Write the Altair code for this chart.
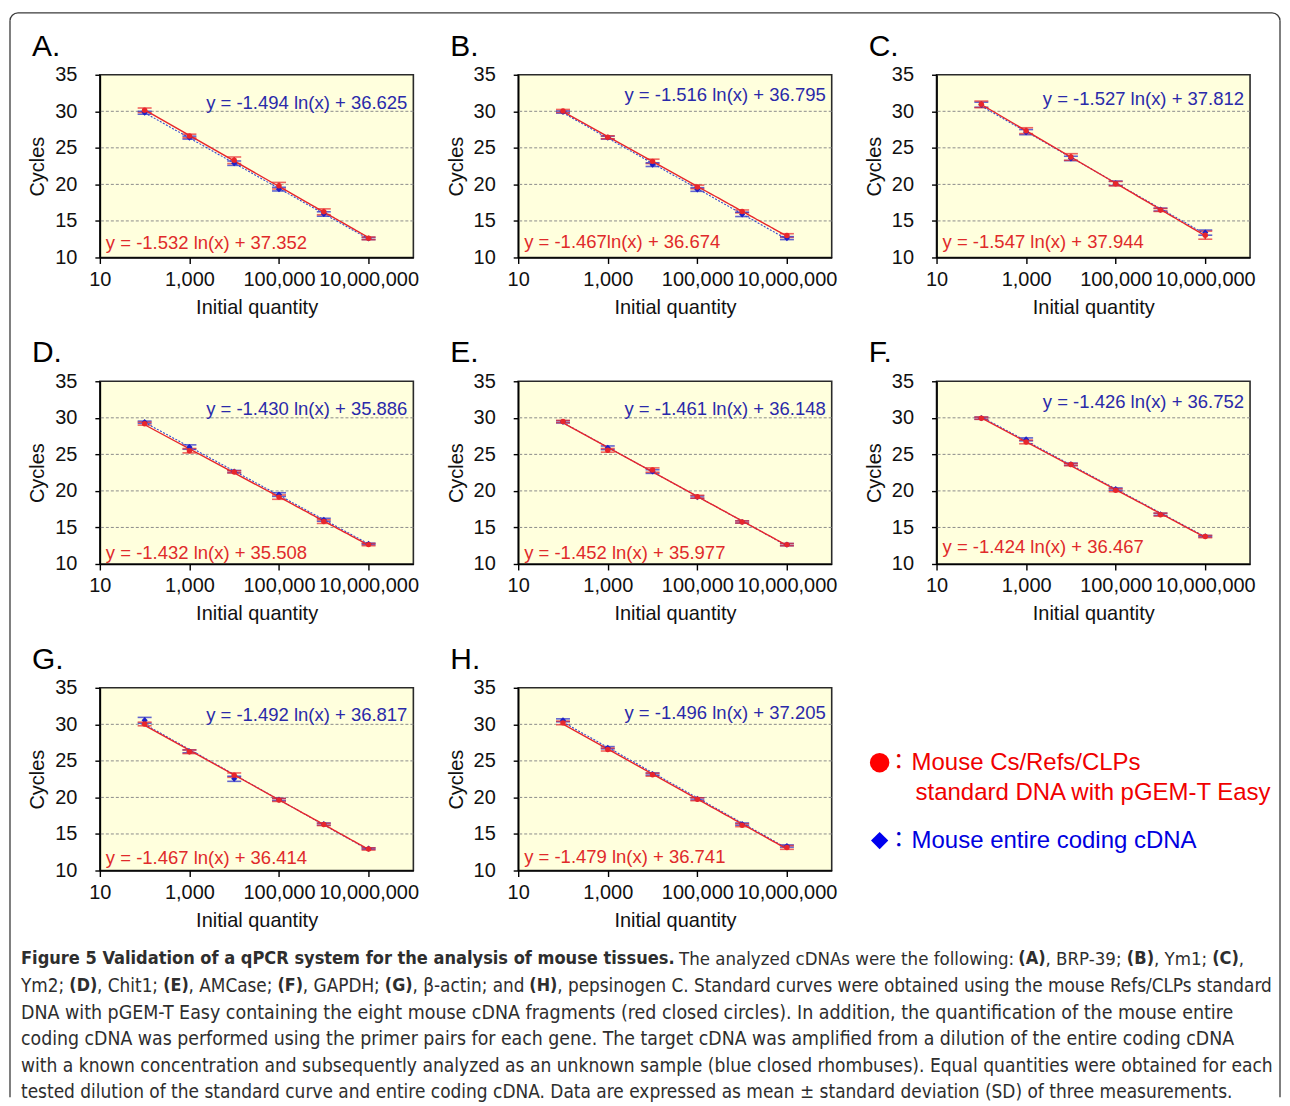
import math
import altair as alt
import pandas as pd

# ---------------- data ----------------
QTY = [100, 1000, 10000, 100000, 1000000, 10000000]
PANEL_LABELS = ["A.", "B.", "C.", "D.", "E.", "F.", "G.", "H."]

A_RED = [30.15, 26.62, 23.30, 19.82, 16.25, 12.62]
A_RED_SD = [0.30, 0.25, 0.45, 0.45, 0.40, 0.18]
A_BLUE = [29.80, 26.40, 22.90, 19.35, 15.95, 12.60]
A_BLUE_SD = [0.20, 0.20, 0.30, 0.25, 0.30, 0.15]

B_RED = [30.05, 26.45, 23.15, 19.65, 16.30, 13.00]
B_RED_SD = [0.20, 0.20, 0.30, 0.25, 0.20, 0.25]
B_BLUE = [29.90, 26.40, 22.70, 19.30, 15.90, 12.65]
B_BLUE_SD = [0.15, 0.20, 0.25, 0.25, 0.30, 0.20]

C_RED = [30.95, 27.35, 23.75, 20.10, 16.50, 13.05]
C_RED_SD = [0.45, 0.40, 0.45, 0.30, 0.20, 0.55]
C_BLUE = [30.90, 27.15, 23.55, 20.15, 16.55, 13.40]
C_BLUE_SD = [0.35, 0.35, 0.30, 0.30, 0.20, 0.35]

D_RED = [29.20, 25.50, 22.60, 19.15, 15.80, 12.65]
D_RED_SD = [0.20, 0.30, 0.15, 0.30, 0.25, 0.15]
D_BLUE = [29.40, 26.00, 22.65, 19.50, 16.05, 12.75]
D_BLUE_SD = [0.15, 0.30, 0.15, 0.25, 0.20, 0.10]

E_RED = [29.50, 25.55, 22.85, 19.20, 15.75, 12.65]
E_RED_SD = [0.15, 0.25, 0.30, 0.20, 0.15, 0.15]
E_BLUE = [29.45, 25.90, 22.65, 19.15, 15.75, 12.65]
E_BLUE_SD = [0.15, 0.25, 0.25, 0.15, 0.15, 0.15]

F_RED = [29.95, 26.70, 23.60, 20.10, 16.75, 13.75]
F_RED_SD = [0.15, 0.25, 0.15, 0.20, 0.20, 0.15]
F_BLUE = [29.95, 27.05, 23.65, 20.25, 16.80, 13.80]
F_BLUE_SD = [0.15, 0.20, 0.15, 0.15, 0.15, 0.10]

G_RED = [30.05, 26.25, 23.05, 19.65, 16.30, 12.95]
G_RED_SD = [0.25, 0.25, 0.30, 0.20, 0.15, 0.15]
G_BLUE = [30.55, 26.30, 22.55, 19.70, 16.35, 13.00]
G_BLUE_SD = [0.40, 0.20, 0.35, 0.15, 0.15, 0.10]

H_RED = [30.20, 26.55, 23.10, 19.75, 16.20, 13.15]
H_RED_SD = [0.25, 0.20, 0.20, 0.20, 0.20, 0.25]
H_BLUE = [30.55, 26.80, 23.20, 19.80, 16.35, 13.35]
H_BLUE_SD = [0.20, 0.15, 0.15, 0.15, 0.15, 0.15]

BLUE_EQ = ["y = -1.494 ln(x) + 36.625", "y = -1.516 ln(x) + 36.795", "y = -1.527 ln(x) + 37.812",
           "y = -1.430 ln(x) + 35.886", "y = -1.461 ln(x) + 36.148", "y = -1.426 ln(x) + 36.752",
           "y = -1.492 ln(x) + 36.817", "y = -1.496 ln(x) + 37.205"]
RED_EQ = ["y = -1.532 ln(x) + 37.352", "y = -1.467ln(x) + 36.674", "y = -1.547 ln(x) + 37.944",
          "y = -1.432 ln(x) + 35.508", "y = -1.452 ln(x) + 35.977", "y = -1.424 ln(x) + 36.467",
          "y = -1.467 ln(x) + 36.414", "y = -1.479 ln(x) + 36.741"]

X_TICKS = [10, 1000, 100000, 10000000]
Y_TICKS = [10, 15, 20, 25, 30, 35]
GRID_Y = [15, 20, 25, 30]

LEGEND_RED = ["Mouse Cs/Refs/CLPs", "standard DNA with pGEM-T Easy"]
LEGEND_BLUE = "Mouse entire coding cDNA"

CAPTION = [
    [("Figure 5 Validation of a qPCR system for the analysis of mouse tissues. ", True),
     ("The analyzed cDNAs were the following: ", False), ("(A)", True), (", BRP-39; ", False),
     ("(B)", True), (", Ym1; ", False), ("(C)", True), (",", False)],
    [("Ym2; ", False), ("(D)", True), (", Chit1; ", False), ("(E)", True), (", AMCase; ", False),
     ("(F)", True), (", GAPDH; ", False), ("(G)", True), (", β-actin; and ", False), ("(H)", True),
     (", pepsinogen C. Standard curves were obtained using the mouse Refs/CLPs standard", False)],
    [("DNA with pGEM-T Easy containing the eight mouse cDNA fragments (red closed circles). In addition, the quantification of the mouse entire", False)],
    [("coding cDNA was performed using the primer pairs for each gene. The target cDNA was amplified from a dilution of the entire coding cDNA", False)],
    [("with a known concentration and subsequently analyzed as an unknown sample (blue closed rhombuses). Equal quantities were obtained for each", False)],
    [("tested dilution of the standard curve and entire coding cDNA. Data are expressed as mean ± standard deviation (SD) of three measurements.", False)],
]

# ---------------- layout / style ----------------
W, H = 314, 183
X0, Y0 = 99, 73          # page position of panel A plot area
COL_SP, ROW_SP = 105, 124
RED = "#E8262B"
BLUE = "#1E22C8"
RED_TXT = "#E02A2A"
BLUE_TXT = "#2A2AAA"
FONT = "Liberation Sans"
CAP_FONT = "DejaVu Sans Condensed"
CAP_COLOR = "#2e2e2e"

BLUE_EQ_Y = [28, 20, 24, 28, 28, 21, 27, 25]
RED_EQ_Y = [169, 168, 168, 172, 172, 166, 170, 169]
CAP_X0 = 20
CAP_Y = [959, 986, 1013, 1039, 1066, 1092]
# per line: (normal size factor, bold size factor, max right edge); every edge stays inside the frame
CAP_LINE_FIT = [(0.96, 0.99, 1245), (1.0, 1.0, 1272), (1.0, 1.0, 1262),
                (0.993, 1.0, 1262), (1.0, 1.0, 1269), (0.973, 1.0, 1262)]

# approximate DejaVu Sans advance widths (units of 1/2048 em) used to chain caption segments
_NW = {" ": 651, "(": 799, ")": 799, ",": 651, "-": 739, ".": 651, "/": 690, ":": 690, ";": 690,
       "±": 1716, "β": 1300,
       "A": 1401, "B": 1405, "C": 1430, "D": 1577, "E": 1294, "F": 1178, "G": 1587, "H": 1540,
       "I": 604, "J": 604, "K": 1343, "L": 1141, "M": 1767, "N": 1532, "O": 1612, "P": 1235,
       "Q": 1612, "R": 1423, "S": 1300, "T": 1251, "U": 1499, "V": 1401, "W": 2025, "X": 1403,
       "Y": 1251, "Z": 1403,
       "a": 1255, "b": 1300, "c": 1126, "d": 1300, "e": 1260, "f": 721, "g": 1300, "h": 1298,
       "i": 569, "j": 569, "k": 1186, "l": 569, "m": 1995, "n": 1298, "o": 1253, "p": 1300,
       "q": 1300, "r": 842, "s": 1067, "t": 803, "u": 1298, "v": 1212, "w": 1675, "x": 1212,
       "y": 1212, "z": 1075}
_BW = {" ": 713, "(": 936, ")": 936, ",": 780, ".": 780, ";": 819, "-": 850,
       "A": 1585, "B": 1561, "C": 1503, "D": 1700, "E": 1399, "F": 1399, "G": 1681, "H": 1716,
       "a": 1382, "c": 1214, "d": 1466, "e": 1389, "f": 891, "g": 1466, "h": 1458, "i": 702,
       "l": 702, "m": 2134, "n": 1458, "o": 1407, "p": 1466, "q": 1466, "r": 1010, "s": 1219,
       "t": 979, "u": 1458, "y": 1331, "V": 1585, "R": 1589, "P": 1503}


def units(s, bold):
    tbl = _BW if bold else _NW
    tot = 0
    for ch in s:
        if ch.isdigit():
            tot += 1425 if bold else 1303
        else:
            tot += tbl.get(ch, 1420 if bold else 1270)
    return tot


# calibration of the condensed face: px per (size * unit/2048)
_K_N = 1090 / (17.5 * units(CAPTION[2][0][0], False) / 2048)
_K_B = 632 / (17.5 * units(CAPTION[0][0][0].strip(), True) / 2048)
CAP_SIZE = 17.5 * 1213 / 1090
CAP_BOLD_SIZE = 17.5 * 666 / 632


def seg_width(s, bold, size):
    k = _K_B if bold else _K_N
    return k * size * units(s, bold) / 2048


ONE = pd.DataFrame({"k": [0]})


def origin(i):
    c, r = i % 3, i // 3
    return X0 + c * (W + COL_SP), Y0 + r * (H + ROW_SP)


def text_at(i, px, py, s, **kw):
    ox, oy = origin(i)
    return alt.Chart(ONE).mark_text(text=s, **kw).encode(x=alt.value(px - ox), y=alt.value(py - oy))


XSCALE = alt.Scale(type="log", domain=[10, 100000000])
YSCALE = alt.Scale(domain=[10, 35], nice=False, zero=False)
XAX = alt.Axis(values=X_TICKS, format=",", title="Initial quantity", grid=False, labelOverlap=False,
               labelFlush=False, tickSize=6, labelPadding=6, titlePadding=8)
YAX = alt.Axis(values=Y_TICKS, title="Cycles", grid=False, tickSize=5, labelPadding=18, titlePadding=7)


def caption_layers(i):
    out = []
    for line, yy, (nf, bf, right) in zip(CAPTION, CAP_Y, CAP_LINE_FIT):
        ns, bs = CAP_SIZE * nf, CAP_BOLD_SIZE * bf
        total = sum(seg_width(s, b, bs if b else ns) for s, b in line)
        if CAP_X0 + total > right:
            f = (right - CAP_X0) / total
            ns, bs = ns * f, bs * f
        xx = CAP_X0
        for s, b in line:
            size = bs if b else ns
            lead = len(s) - len(s.lstrip(" "))
            xs = xx + (seg_width(" " * lead, b, size) if lead else 0)
            out.append(text_at(i, xs, yy, s.strip(" "), font=CAP_FONT, fontSize=round(size, 2),
                               align="left", baseline="middle", color=CAP_COLOR,
                               fontWeight="bold" if b else "normal"))
            xx += seg_width(s, b, size)
    return out


def panel(i, red, red_sd, blue, blue_sd):
    rows = []
    for q, v, s in zip(QTY, blue, blue_sd):
        rows.append({"qty": q, "ct": v, "sd": s, "s": "b"})
    for q, v, s in zip(QTY, red, red_sd):
        rows.append({"qty": q, "ct": v, "sd": s, "s": "r"})
    df = pd.DataFrame(rows)
    base = alt.Chart(df)
    x = alt.X("qty:Q", scale=XSCALE, axis=XAX)
    y = alt.Y("ct:Q", scale=YSCALE, axis=YAX)
    col = alt.Color("s:N", scale=alt.Scale(domain=["b", "r"], range=[BLUE, RED]), legend=None)

    grid = alt.Chart(pd.DataFrame({"g": GRID_Y})).mark_rule(
        color="#8c8c8c", strokeDash=[3, 2], strokeWidth=1).encode(
        y=alt.Y("g:Q", scale=YSCALE, axis=YAX))

    eb = base.transform_calculate(lo="datum.ct - datum.sd", hi="datum.ct + datum.sd")
    bars = eb.mark_rule(strokeWidth=1.5).encode(x=x, y=alt.Y("lo:Q", scale=YSCALE, axis=YAX), y2="hi:Q", color=col)
    cap_lo = eb.mark_tick(orient="horizontal", size=14, thickness=1.6).encode(
        x=x, y=alt.Y("lo:Q", scale=YSCALE, axis=YAX), color=col)
    cap_hi = eb.mark_tick(orient="horizontal", size=14, thickness=1.6).encode(
        x=x, y=alt.Y("hi:Q", scale=YSCALE, axis=YAX), color=col)

    trend_b = base.transform_filter(alt.datum.s == "b").transform_regression(
        "qty", "ct", method="log").mark_line(color="#3548D0", strokeWidth=1.1, strokeDash=[2, 1.5]).encode(x=x, y=y)
    trend_r = base.transform_filter(alt.datum.s == "r").transform_regression(
        "qty", "ct", method="log").mark_line(color=RED, strokeWidth=1.4).encode(x=x, y=y)

    pts_b = base.transform_filter(alt.datum.s == "b").mark_point(
        shape="diamond", filled=True, size=38, opacity=1, color=BLUE).encode(x=x, y=y)
    pts_r = base.transform_filter(alt.datum.s == "r").mark_point(
        shape="circle", filled=True, size=30, opacity=1, color=RED).encode(x=x, y=y)

    ox, oy = origin(i)
    lab = alt.Chart(ONE).mark_text(text=PANEL_LABELS[i], font=FONT, fontSize=30, align="left",
                                   baseline="middle", color="black").encode(
        x=alt.value(-68), y=alt.value(-28))
    eqb = alt.Chart(ONE).mark_text(text=BLUE_EQ[i], font=FONT, fontSize=18.5, align="right",
                                   baseline="middle", color=BLUE_TXT).encode(
        x=alt.value(W - 6), y=alt.value(BLUE_EQ_Y[i]))
    eqr = alt.Chart(ONE).mark_text(text=RED_EQ[i], font=FONT, fontSize=18.5, align="left",
                                   baseline="middle", color=RED_TXT).encode(
        x=alt.value(6), y=alt.value(RED_EQ_Y[i]))

    layers = [grid, bars, cap_lo, cap_hi, trend_b, trend_r, pts_b, pts_r, lab, eqb, eqr]

    if i == 0:
        # figure frame (decoration)
        fc, fw = "#3a3a3a", 1.3
        L, T, R, B, rad = 9, 11, 1281, 1097, 8
        layers += [
            alt.Chart(ONE).mark_rule(color=fc, strokeWidth=fw).encode(
                x=alt.value(L + rad - ox), x2=alt.value(R - rad - ox), y=alt.value(T - oy)),
            alt.Chart(ONE).mark_rule(color=fc, strokeWidth=fw).encode(
                x=alt.value(L - ox), y=alt.value(T + rad - oy), y2=alt.value(B - oy)),
            alt.Chart(ONE).mark_rule(color=fc, strokeWidth=fw).encode(
                x=alt.value(R - ox), y=alt.value(T + rad - oy), y2=alt.value(B - oy)),
            alt.Chart(ONE).mark_arc(radius=rad + fw / 2, radius2=rad - fw / 2, theta=1.5 * math.pi,
                                    theta2=2 * math.pi, color=fc).encode(
                x=alt.value(L + rad - ox), y=alt.value(T + rad - oy)),
            alt.Chart(ONE).mark_arc(radius=rad + fw / 2, radius2=rad - fw / 2, theta=0,
                                    theta2=0.5 * math.pi, color=fc).encode(
                x=alt.value(R - rad - ox), y=alt.value(T + rad - oy)),
        ]
    if i == 6:
        layers += caption_layers(i)
    if i == 7:
        layers += [
            alt.Chart(ONE).mark_point(shape="circle", filled=True, size=380, opacity=1, color="#FF0000").encode(
                x=alt.value(880 - ox), y=alt.value(762 - oy)),
            alt.Chart(ONE).mark_point(shape="diamond", filled=True, size=300, opacity=1, color="#0000EE").encode(
                x=alt.value(880 - ox), y=alt.value(840 - oy)),
            text_at(i, 899, 761, "：", font="Noto Sans CJK JP", fontSize=22, align="center",
                    baseline="middle", color="#E00000"),
            text_at(i, 899, 839, "：", font="Noto Sans CJK JP", fontSize=22, align="center",
                    baseline="middle", color="#0000CC"),
            text_at(i, 912, 762, LEGEND_RED[0], font=FONT, fontSize=24, align="left",
                    baseline="middle", color="#F00000"),
            text_at(i, 916, 792, LEGEND_RED[1], font=FONT, fontSize=24, align="left",
                    baseline="middle", color="#F00000"),
            text_at(i, 912, 840, LEGEND_BLUE, font=FONT, fontSize=24, align="left",
                    baseline="middle", color="#0000E0"),
        ]
    return alt.layer(*layers).properties(width=W, height=H)


SERIES = [
    (A_RED, A_RED_SD, A_BLUE, A_BLUE_SD), (B_RED, B_RED_SD, B_BLUE, B_BLUE_SD),
    (C_RED, C_RED_SD, C_BLUE, C_BLUE_SD), (D_RED, D_RED_SD, D_BLUE, D_BLUE_SD),
    (E_RED, E_RED_SD, E_BLUE, E_BLUE_SD), (F_RED, F_RED_SD, F_BLUE, F_BLUE_SD),
    (G_RED, G_RED_SD, G_BLUE, G_BLUE_SD), (H_RED, H_RED_SD, H_BLUE, H_BLUE_SD),
]

panels = [panel(i, *s) for i, s in enumerate(SERIES)]

chart = alt.concat(*panels, columns=3, spacing={"row": ROW_SP, "column": COL_SP}, bounds="flush").properties(
    padding={"left": 0, "top": 2, "right": 0, "bottom": 0}
).configure(
    background="white"
).configure_view(
    fill="#FFFFDD", stroke="#2a2a2a", strokeWidth=1.6
).configure_axis(
    labelFont=FONT, titleFont=FONT, labelFontSize=20, titleFontSize=20, titleFontWeight="normal",
    labelColor="#111111", titleColor="#111111", domainColor="black", tickColor="black",
    domainWidth=1.6, tickWidth=1.4
)

chart.save("out.html", embed_options={"renderer": "svg", "actions": False})
